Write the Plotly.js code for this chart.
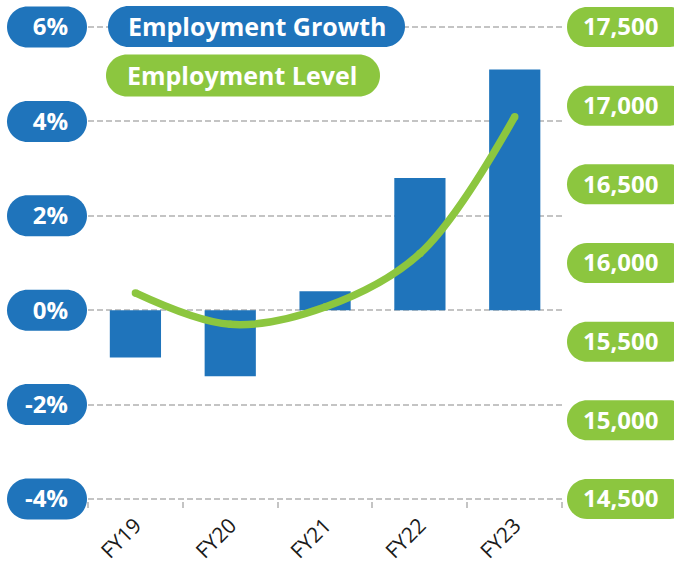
<!DOCTYPE html>
<html>
<head>
<meta charset="utf-8">
<script src="https://cdn.plot.ly/plotly-3.0.1.min.js"></script>
<style>
  html, body { margin: 0; padding: 0; background: #ffffff; }
  #chart { width: 674px; height: 569px; }
</style>
</head>
<body>
<div id="chart"></div>
<script>
// ---- data ----
var categories = ['FY19', 'FY20', 'FY21', 'FY22', 'FY23'];
var growthPct = [-1.0, -1.4, 0.4, 2.8, 5.1];
var employmentLevel = [15810, 15610, 15720, 16060, 16930];
var growthTicks = [-4, -2, 0, 2, 4, 6];
var growthTickText = ['-4%', '-2%', '0%', '2%', '4%', '6%'];
var levelTicks = [14500, 15000, 15500, 16000, 16500, 17000, 17500];
var levelTickText = ['14,500', '15,000', '15,500', '16,000', '16,500', '17,000', '17,500'];
var seriesNames = ['Employment Growth', 'Employment Level'];

// ---- style ----
var BLUE = '#1f74bb';
var GREEN = '#8cc63f';
var W = 674, H = 569;
var PAD = 2;                       // px of breathing room so edge gridlines are drawn
var M = {l: 88, r: 109, t: 27 - PAD, b: 70 - PAD};
var PW = W - M.l - M.r, PH = H - M.t - M.b;
var SPAN_PX = PH - 2 * PAD;        // pixel span between lowest and highest tick
var yTickMin = growthTicks[0], yTickMax = growthTicks[growthTicks.length - 1];
var yPadV = PAD * (yTickMax - yTickMin) / SPAN_PX;
var yRange = [yTickMin - yPadV, yTickMax + yPadV];
var y2TickMin = levelTicks[0], y2TickMax = levelTicks[levelTicks.length - 1];
var y2PadV = PAD * (y2TickMax - y2TickMin) / SPAN_PX;
var y2Range = [y2TickMin - y2PadV, y2TickMax + y2PadV];

// rounded pill path in pixel units (y up), centred vertically at yc
function pill(x0, x1, h, yc) {
  yc = yc || 0;
  var r = h / 2, k = 0.5523 * r;
  function p(x, y) { return (+x.toFixed(2)) + ',' + (+(y + yc).toFixed(2)); }
  return 'M' + p(x0 + r, r) +
    ' L' + p(x1 - r, r) +
    ' C' + p(x1 - r + k, r) + ' ' + p(x1, k) + ' ' + p(x1, 0) +
    ' C' + p(x1, -k) + ' ' + p(x1 - r + k, -r) + ' ' + p(x1 - r, -r) +
    ' L' + p(x0 + r, -r) +
    ' C' + p(x0 + r - k, -r) + ' ' + p(x0, -k) + ' ' + p(x0, 0) +
    ' C' + p(x0, k) + ' ' + p(x0 + r - k, r) + ' ' + p(x0 + r, r) + ' Z';
}

var shapes = [];
growthTicks.forEach(function (v) {
  shapes.push({
    type: 'path', layer: 'below', xref: 'paper', yref: 'paper',
    xsizemode: 'pixel', ysizemode: 'pixel', xanchor: 0,
    yanchor: (v - yRange[0]) / (yRange[1] - yRange[0]),
    path: pill(-81, -1, 41), fillcolor: BLUE, line: {width: 0}
  });
});
levelTicks.forEach(function (v) {
  shapes.push({
    type: 'path', layer: 'below', xref: 'paper', yref: 'paper',
    xsizemode: 'pixel', ysizemode: 'pixel', xanchor: 1,
    yanchor: (v - y2Range[0]) / (y2Range[1] - y2Range[0]),
    path: pill(2, 125, 40), fillcolor: GREEN, line: {width: 0}
  });
});
// legend pills (anchored at top-left corner of plot area)
shapes.push({
  type: 'path', layer: 'above', xref: 'paper', yref: 'paper',
  xsizemode: 'pixel', ysizemode: 'pixel', xanchor: 0, yanchor: 1,
  path: pill(20, 317, 41, M.t - 26.5), fillcolor: BLUE, line: {width: 0}
});
shapes.push({
  type: 'path', layer: 'above', xref: 'paper', yref: 'paper',
  xsizemode: 'pixel', ysizemode: 'pixel', xanchor: 0, yanchor: 1,
  path: pill(18, 292, 42, M.t - 75.5), fillcolor: GREEN, line: {width: 0}
});

var LEG_FONT = {family: 'Open Sans', size: 25, color: '#ffffff', weight: 700};
var annotations = [
  {text: seriesNames[0], xref: 'paper', yref: 'paper', x: (257 - M.l) / PW, y: 1 - (26.5 - M.t) / PH,
   showarrow: false, xanchor: 'center', yanchor: 'middle', font: LEG_FONT},
  {text: seriesNames[1], xref: 'paper', yref: 'paper', x: (242 - M.l) / PW, y: 1 - (75.5 - M.t) / PH,
   showarrow: false, xanchor: 'center', yanchor: 'middle', font: LEG_FONT}
];

var traces = [
  {type: 'bar', name: seriesNames[0], x: categories, y: growthPct,
   marker: {color: BLUE}, width: 0.54, hoverinfo: 'skip'},
  {type: 'scatter', mode: 'lines+markers', name: seriesNames[1], x: categories, y: employmentLevel,
   yaxis: 'y2', line: {color: GREEN, width: 7.5, shape: 'spline', smoothing: 1},
   marker: {color: GREEN, size: 7.5, line: {width: 0}}, hoverinfo: 'skip'}
];

var layout = {
  width: W, height: H,
  margin: M,
  paper_bgcolor: '#ffffff', plot_bgcolor: '#ffffff',
  showlegend: false,
  xaxis: {
    type: 'category', range: [-0.5, 4.53],
    tickangle: -45, tickson: 'boundaries',
    ticks: 'outside', ticklen: 6, tickwidth: 2, tickcolor: '#c4c4c4',
    ticklabelstandoff: 7,
    showgrid: false, showline: false, zeroline: false,
    tickfont: {family: 'Open Sans', size: 21, color: '#1a1a1a'}
  },
  yaxis: {
    range: yRange, tickvals: growthTicks, ticktext: growthTickText,
    showgrid: true, gridcolor: '#c4c4c4', gridwidth: 2, griddash: '6px,3px',
    zeroline: false, showline: false, ticks: '',
    ticklabelstandoff: 19,
    tickfont: {family: 'Open Sans', size: 24, color: '#ffffff', weight: 700}
  },
  yaxis2: {
    range: y2Range, tickvals: levelTicks, ticktext: levelTickText,
    overlaying: 'y', side: 'right', showgrid: false, zeroline: false, showline: false, ticks: '',
    ticklabelstandoff: 17,
    tickfont: {family: 'Open Sans', size: 24, color: '#ffffff', weight: 700}
  },
  shapes: shapes,
  annotations: annotations
};

Plotly.newPlot('chart', traces, layout, {staticPlot: true, displayModeBar: false});
</script>
</body>
</html>
